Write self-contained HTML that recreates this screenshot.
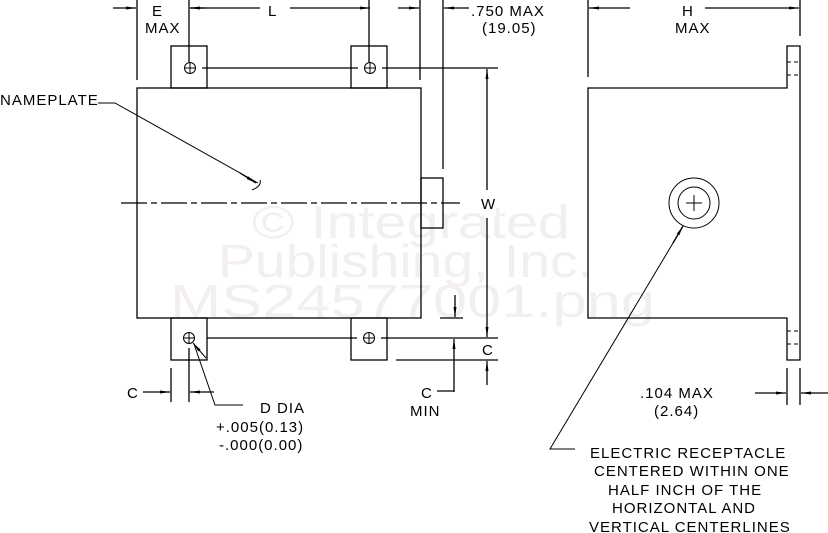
<!DOCTYPE html>
<html><head><meta charset="utf-8"><style>
html,body{margin:0;padding:0;background:#fff;}
svg{display:block;}
text{font-family:"Liberation Sans",sans-serif;font-size:15px;fill:#000;letter-spacing:1px;}
.wm{fill:#f3efef;font-size:46px;letter-spacing:0;}
</style></head><body>
<svg width="828" height="533" viewBox="0 0 828 533" xmlns="http://www.w3.org/2000/svg">
<defs>
<marker id="a" viewBox="0 0 10 4" refX="10" refY="2" markerWidth="10" markerHeight="4" orient="auto" markerUnits="userSpaceOnUse"><path d="M0,0.5 L10,2 L0,3.5z" fill="#000"/></marker>
</defs>
<text class="wm" x="252" y="238" textLength="318" lengthAdjust="spacingAndGlyphs">© Integrated</text>
<text class="wm" x="218" y="277" textLength="375" lengthAdjust="spacingAndGlyphs">Publishing, Inc.</text>
<text class="wm" x="170" y="317" textLength="485" lengthAdjust="spacingAndGlyphs">MS24577001.png</text>
<g stroke="#000" stroke-width="1.3" fill="none">
<rect x="137" y="88" width="284" height="230"/>
<rect x="171" y="46" width="36" height="42"/>
<rect x="351" y="46" width="36" height="42"/>
<rect x="171" y="318" width="36" height="42"/>
<rect x="351" y="318" width="36" height="42"/>
<rect x="421" y="178" width="22" height="50"/>
<circle cx="190" cy="68" r="5.5" stroke-width="1"/><path d="M185 68h10M190 63v10" stroke-width="1"/>
<circle cx="370" cy="68" r="5.5" stroke-width="1"/><path d="M365 68h10M370 63v10" stroke-width="1"/>
<circle cx="189" cy="338" r="5.5" stroke-width="1"/><path d="M184 338h10M189 333v10" stroke-width="1"/>
<circle cx="369" cy="338" r="5.5" stroke-width="1"/><path d="M364 338h10M369 333v10" stroke-width="1"/>
<path d="M202 68H358M382 68H498M207 338H357M381 338H498" />
<path d="M121 203H460" stroke-dasharray="26,4,6,4"/>
<path d="M137 0V80M189 0V62M369 0V62M420 0V80M443 0V169"/>
<path d="M113 8H136" marker-end="url(#a)"/>
<path d="M260 8H190"/><path d="M205 8H190" marker-end="url(#a)"/>
<path d="M290 8H370" marker-end="url(#a)"/>
<path d="M398 8H419" marker-end="url(#a)"/>
<path d="M469 8H444" marker-end="url(#a)"/>
<path d="M487 190V69" marker-end="url(#a)"/>
<path d="M487 218V337" marker-end="url(#a)"/>
<path d="M487 385V361" marker-end="url(#a)"/>
<path d="M396 360H498"/>
<path d="M440 318H463"/>
<path d="M455 295V317" marker-end="url(#a)"/>
<path d="M454 392V339" marker-end="url(#a)"/>
<path d="M454 391H437"/>
<path d="M171 368V402M189 348V402"/>
<path d="M143 392H170" marker-end="url(#a)"/>
<path d="M214 392H190" marker-end="url(#a)"/>
<path d="M243 405L215 405L194 344" stroke-width="1"/>
<path d="M206 358L193 343" marker-end="url(#a)" stroke-width="1"/>
<path d="M98 103H115L258 183" stroke-width="1"/>
<path d="M240 173L256 183" marker-end="url(#a)"/>
<path d="M252 190Q262 186 260 180" stroke-width="1"/>
<!-- right view outline -->
<path d="M588 88H787V46H800V360H787V318H588Z"/>
<path d="M787 62H800M787 75H800M787 331H800M787 344H800" stroke-dasharray="4,3" stroke-width="1"/>
<circle cx="694" cy="203" r="25" stroke-width="1"/>
<circle cx="694" cy="203" r="16" stroke-width="1"/>
<path d="M686 203h16M694 195v16" stroke-width="1"/>
<path d="M588 0V77M800 0V36"/>
<path d="M630 8H589" marker-end="url(#a)"/>
<path d="M705 8H799" marker-end="url(#a)"/>
<path d="M787 368V405M800 368V405"/>
<path d="M755 393H786" marker-end="url(#a)"/>
<path d="M828 393H801" marker-end="url(#a)"/>
<path d="M575 449H550L682 228" stroke-width="1"/>
<path d="M673 243L683 226" marker-end="url(#a)"/>
</g>
<rect x="260" y="0" width="28" height="16" fill="#fff"/>
<rect x="630" y="0" width="74" height="16" fill="#fff"/>
<rect x="480" y="190" width="16" height="26" fill="#fff"/>
<text x="152" y="16">E</text>
<text x="145" y="33">MAX</text>
<text x="268" y="16">L</text>
<text x="471" y="16">.750 MAX</text>
<text x="482" y="33">(19.05)</text>
<text x="682" y="16">H</text>
<text x="675" y="33">MAX</text>
<text x="0" y="105">NAMEPLATE</text>
<text x="481" y="209">W</text>
<text x="482" y="355">C</text>
<text x="127" y="398">C</text>
<text x="421" y="398">C</text>
<text x="410" y="416">MIN</text>
<text x="260" y="413">D  DIA</text>
<text x="216" y="432">+.005(0.13)</text>
<text x="219" y="450">-.000(0.00)</text>
<text x="640" y="398">.104 MAX</text>
<text x="654" y="416">(2.64)</text>
<text x="590" y="458">ELECTRIC RECEPTACLE</text>
<text x="594" y="476">CENTERED WITHIN ONE</text>
<text x="608" y="495">HALF INCH OF THE</text>
<text x="612" y="513">HORIZONTAL AND</text>
<text x="589" y="532">VERTICAL CENTERLINES</text>
</svg>
</body></html>
